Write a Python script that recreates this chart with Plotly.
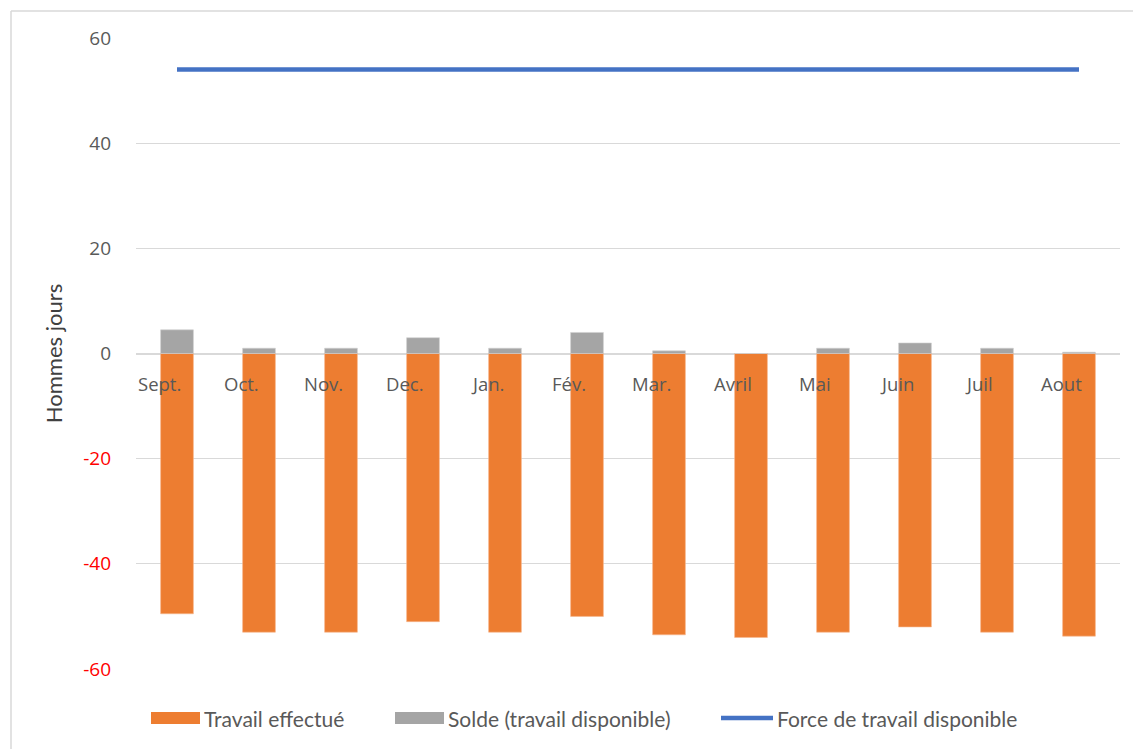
import plotly.graph_objects as go

months = ["Sept.", "Oct.", "Nov.", "Dec.", "Jan.", "Fév.", "Mar.", "Avril", "Mai", "Juin", "Juil", "Aout"]
travail_effectue = [-49.5, -53, -53, -51, -53, -50, -53.5, -54, -53, -52, -53, -53.75]
solde = [4.5, 1, 1, 3, 1, 4, 0.5, 0, 1, 2, 1, 0.25]
force_travail = [54] * 12
series_names = ["Travail effectué", "Solde (travail disponible)", "Force de travail disponible"]
series_colors = ["#ED7D31", "#A5A5A5", "#4472C4"]

y_ticks = [60, 40, 20, 0, -20, -40, -60]
y_tick_text = ["<span style='color:red'>%d</span>" % v if v < 0 else str(v) for v in y_ticks]

W, H = 1133, 749
L, R, T, B = 136, 1120, 38, 669


def px_x(px):
    return (px - L) / (R - L)


def px_y(py):
    return (B - py) / (B - T)


fig = go.Figure()
fig.add_trace(go.Bar(x=months, y=travail_effectue, name=series_names[0],
                     marker=dict(color=series_colors[0], line=dict(color="#F6B990", width=0.6)),
                     width=0.4, showlegend=False))
fig.add_trace(go.Bar(x=months, y=solde, name=series_names[1],
                     marker=dict(color=series_colors[1], line=dict(color="#D0D0D0", width=0.6)),
                     width=0.4, showlegend=False))
fig.add_trace(go.Scatter(x=months, y=force_travail, name=series_names[2],
                         mode="lines", line=dict(color=series_colors[2], width=4.5),
                         showlegend=False))

for m in months:
    fig.add_annotation(x=m, y=0, text=m, showarrow=False, xshift=-18, yshift=-30,
                       font=dict(family="Open Sans", size=18.5, color="#595959"))

# legend (drawn manually to get Excel-like wide keys)
legend_keys = [(151, 200), (395, 444), (721, 773)]
shapes = []
for i, (x0, x1) in enumerate(legend_keys):
    if i < 2:
        shapes.append(dict(type="rect", xref="paper", yref="paper",
                           x0=px_x(x0), x1=px_x(x1), y0=px_y(724), y1=px_y(712),
                           fillcolor=series_colors[i], line=dict(width=0)))
    else:
        shapes.append(dict(type="line", xref="paper", yref="paper",
                           x0=px_x(x0), x1=px_x(x1), y0=px_y(718), y1=px_y(718),
                           line=dict(color=series_colors[i], width=4.5)))
    fig.add_annotation(xref="paper", yref="paper", x=px_x(x1 + 2), y=px_y(718),
                       xanchor="left", yanchor="middle", showarrow=False,
                       text=series_names[i],
                       font=dict(family="Lato", size=21, color="#595959"))

shapes += [
    dict(type="line", xref="paper", yref="paper",
         x0=px_x(11), x1=px_x(11), y0=px_y(H), y1=px_y(11),
         line=dict(color="#D9D9D9", width=1.5)),
    dict(type="line", xref="paper", yref="paper",
         x0=px_x(11), x1=px_x(W), y0=px_y(11), y1=px_y(11),
         line=dict(color="#D9D9D9", width=1.5)),
]

fig.update_layout(
    width=W, height=H,
    margin=dict(l=L, r=W - R, t=T, b=H - B),
    paper_bgcolor="white", plot_bgcolor="white",
    barmode="relative",
    showlegend=False,
    xaxis=dict(range=[-0.5, 11.5], showticklabels=False, showgrid=False,
               showline=False, zeroline=False),
    yaxis=dict(range=[-60, 60], tickvals=y_ticks, ticktext=y_tick_text,
               tickfont=dict(family="Open Sans", size=19, color="#595959"),
               showgrid=True, gridcolor="#D9D9D9", gridwidth=1,
               zeroline=True, zerolinecolor="#D9D9D9", zerolinewidth=2,
               ticklabelstandoff=24, showline=False,
               title=dict(text="Hommes jours", standoff=14,
                          font=dict(family="Lato", size=22, color="#404040"))),
    shapes=shapes,
)

fig.write_html("out.html")
